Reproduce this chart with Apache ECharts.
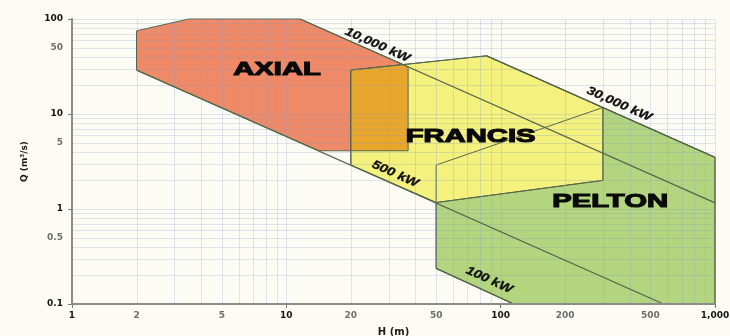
<!DOCTYPE html>
<html>
<head>
<meta charset="utf-8">
<script src="https://cdn.jsdelivr.net/npm/echarts@6/dist/echarts.min.js"></script>
<style>
  html, body { margin: 0; padding: 0; background: #fdfcf4; }
  #chart { width: 730px; height: 336px; }
</style>
</head>
<body>
<div id="chart"></div>
<script>
// Axis tick labels: head H (m) and flow Q (m³/s), both logarithmic
const hTickLabels = [1, 2, 5, 10, 20, 50, 100, 200, 500, 1000];
const qTickLabels = [0.1, 0.5, 1, 5, 10, 50, 100];
const hDecades = [1, 10, 100, 1000];
const qDecades = [0.1, 1, 10, 100];

// Log grid lines
const hGrid = [1, 2, 3, 4, 5, 6, 7, 8, 9, 10, 20, 30, 40, 50, 60, 70, 80, 90,
               100, 200, 300, 400, 500, 600, 700, 800, 900, 1000];
const qGrid = [0.1, 0.2, 0.3, 0.4, 0.5, 0.6, 0.7, 0.8, 0.9, 1, 2, 3, 4, 5, 6, 7, 8, 9,
               10, 20, 30, 40, 50, 60, 70, 80, 90, 100];

// Turbine application envelopes, vertices as [H, Q]
const axial = [[2, 75], [3.5, 100], [11.6, 100], [37, 31.4], [37, 4.1], [14.2, 4.1], [2, 29]];
const francis = [[20, 29], [86, 41], [300, 11.7], [300, 2.0], [50, 1.17], [20, 2.9]];
const pelton = [[50, 1.17], [50, 0.237], [115, 0.1], [1000, 0.1], [1000, 3.5], [300, 11.7], [50, 2.9]];
const axialFrancis = [[20, 29], [35, 33.1], [37, 31.4], [37, 4.1], [20, 4.1]];

// Constant output lines, [H, Q] end points
const kw100 = [[50, 0.237], [115, 0.1]];
const kw500 = [[2, 29], [575, 0.1]];
const kw10000 = [[11.6, 100], [1000, 1.16]];
const kw30000 = [[86, 41], [1000, 3.5]];

const EDGE = '#56674b';
const GRID = 'rgba(115,150,205,0.24)';

function isDecade(v) {
  const l = Math.log10(v);
  return Math.abs(l - Math.round(l)) < 1e-6;
}
function fmt(v) {
  const n = +Number(v).toPrecision(6);
  return n >= 1000 ? n.toLocaleString('en-US') : String(n);
}
function labelFormatter(v) {
  return (isDecade(v) ? '{d|' : '{m|') + fmt(v) + '}';
}
const labelRich = {
  d: { fontFamily: 'DejaVu Sans', fontWeight: 'bold', fontSize: 9, color: '#151515' },
  m: { fontFamily: 'DejaVu Sans', fontWeight: 'bold', fontSize: 9, color: '#6d6d6d' }
};

function polygon(pts, fill, z, stroke) {
  return {
    type: 'custom',
    coordinateSystem: 'cartesian2d',
    silent: true,
    z: z,
    data: pts,
    encode: { x: 0, y: 1 },
    renderItem: function (params, api) {
      if (params.dataIndex !== 0) return;
      const points = pts.map(function (p) { return api.coord(p); });
      return {
        type: 'polygon',
        shape: { points: points },
        style: { fill: fill, stroke: stroke || EDGE, lineWidth: 1 }
      };
    }
  };
}

function gridLines(values, vertical) {
  return {
    type: 'custom',
    coordinateSystem: 'cartesian2d',
    silent: true,
    z: 6,
    data: values.map(function (v) { return vertical ? [v, 0.1] : [1, v]; }),
    encode: { x: 0, y: 1 },
    renderItem: function (params, api) {
      const v = api.value(vertical ? 0 : 1);
      const a = api.coord(vertical ? [v, 0.1] : [1, v]);
      const b = api.coord(vertical ? [v, 100] : [1000, v]);
      const x1 = vertical ? Math.round(a[0]) + 0.5 : a[0];
      const x2 = vertical ? Math.round(b[0]) + 0.5 : b[0];
      const y1 = vertical ? a[1] : Math.round(a[1]) + 0.5;
      const y2 = vertical ? b[1] : Math.round(b[1]) + 0.5;
      return {
        type: 'line',
        shape: { x1: x1, y1: y1, x2: x2, y2: y2 },
        style: { stroke: GRID, lineWidth: 1 }
      };
    }
  };
}

function powerLine(pts) {
  return {
    type: 'line',
    data: pts,
    symbol: 'none',
    silent: true,
    z: 8,
    lineStyle: { color: EDGE, width: 1.3 },
    animation: false
  };
}

const chart = echarts.init(document.getElementById('chart'), null, { renderer: 'canvas' });

chart.setOption({
  backgroundColor: '#fdfcf4',
  animation: false,
  grid: { left: 72, right: 15, top: 19, bottom: 32, containLabel: false, outerBoundsMode: 'none' },
  xAxis: {
    type: 'log', logBase: 10, min: 1, max: 1000, z: 9,
    name: 'H (m)', nameLocation: 'middle', nameGap: 23,
    nameTextStyle: { fontFamily: 'DejaVu Sans', fontWeight: 'bold', fontSize: 10, color: '#1a1a1a' },
    axisLine: { show: true, lineStyle: { color: '#8c8c8c', width: 2 } },
    axisTick: { show: true, length: 4, customValues: hDecades, lineStyle: { color: '#7a7a7a', width: 1 } },
    axisLabel: { customValues: hTickLabels, margin: 7, formatter: labelFormatter, rich: labelRich },
    splitLine: { show: false }
  },
  yAxis: {
    type: 'log', logBase: 10, min: 0.1, max: 100, z: 9,
    name: 'Q (m³/s)', nameLocation: 'middle', nameGap: 43,
    nameTextStyle: { fontFamily: 'DejaVu Sans', fontWeight: 'bold', fontSize: 9, color: '#1a1a1a' },
    axisLine: { show: true, lineStyle: { color: '#8c8c8c', width: 2 } },
    axisTick: { show: true, length: 4, customValues: qDecades, lineStyle: { color: '#7a7a7a', width: 1 } },
    axisLabel: { customValues: qTickLabels, margin: 9, formatter: labelFormatter, rich: labelRich },
    splitLine: { show: false }
  },
  series: [
    polygon(axial, '#ee8a68', 2),
    polygon(pelton, '#b3d57f', 2),
    polygon(francis, '#f4f17e', 3),
    polygon(axialFrancis, '#e9a62d', 4),
    polygon(pelton, 'none', 5),
    polygon(francis, 'none', 5),
    gridLines(hGrid, true),
    gridLines(qGrid, false),
    powerLine(kw100),
    powerLine(kw500),
    powerLine(kw10000),
    powerLine(kw30000)
  ]
});

// Region names and output-line captions
const toPx = function (p) { return chart.convertToPixel({ gridIndex: 0 }, p); };
function slope(line) {
  const a = toPx(line[0]), b = toPx(line[1]);
  return -Math.atan2(b[1] - a[1], b[0] - a[0]);
}
const regionLabels = [
  { text: 'AXIAL', at: [9.05, 29] },
  { text: 'FRANCIS', at: [72.4, 5.73] },
  { text: 'PELTON', at: [324, 1.19] }
];
const powerLabels = [
  { text: '10,000 kW', at: [26.6, 53.2], line: kw10000 },
  { text: '30,000 kW', at: [357, 12.7], line: kw30000 },
  { text: '500 kW', at: [32.2, 2.33], line: kw500 },
  { text: '100 kW', at: [88.3, 0.179], line: kw100 }
];
const graphics = [];
regionLabels.forEach(function (l) {
  const p = toPx(l.at);
  graphics.push({
    type: 'text', x: p[0], y: p[1], scaleX: 1.58, z: 20, silent: true,
    style: {
      text: l.text, fontFamily: 'Liberation Sans', fontWeight: 'bold', fontSize: 18.5,
      fill: '#0a0a0a', stroke: '#0a0a0a', lineWidth: 1.1,
      align: 'center', verticalAlign: 'middle'
    }
  });
});
powerLabels.forEach(function (l) {
  const p = toPx(l.at);
  graphics.push({
    type: 'text', x: p[0], y: p[1], rotation: slope(l.line), scaleX: 1.2, z: 20, silent: true,
    style: {
      text: l.text, fontFamily: 'Liberation Sans', fontWeight: 'bold', fontStyle: 'italic',
      fontSize: 12, fill: '#0f0f0f', stroke: '#0f0f0f', lineWidth: 0.3,
      align: 'center', verticalAlign: 'middle'
    }
  });
});
chart.setOption({ graphic: graphics });
</script>
</body>
</html>
